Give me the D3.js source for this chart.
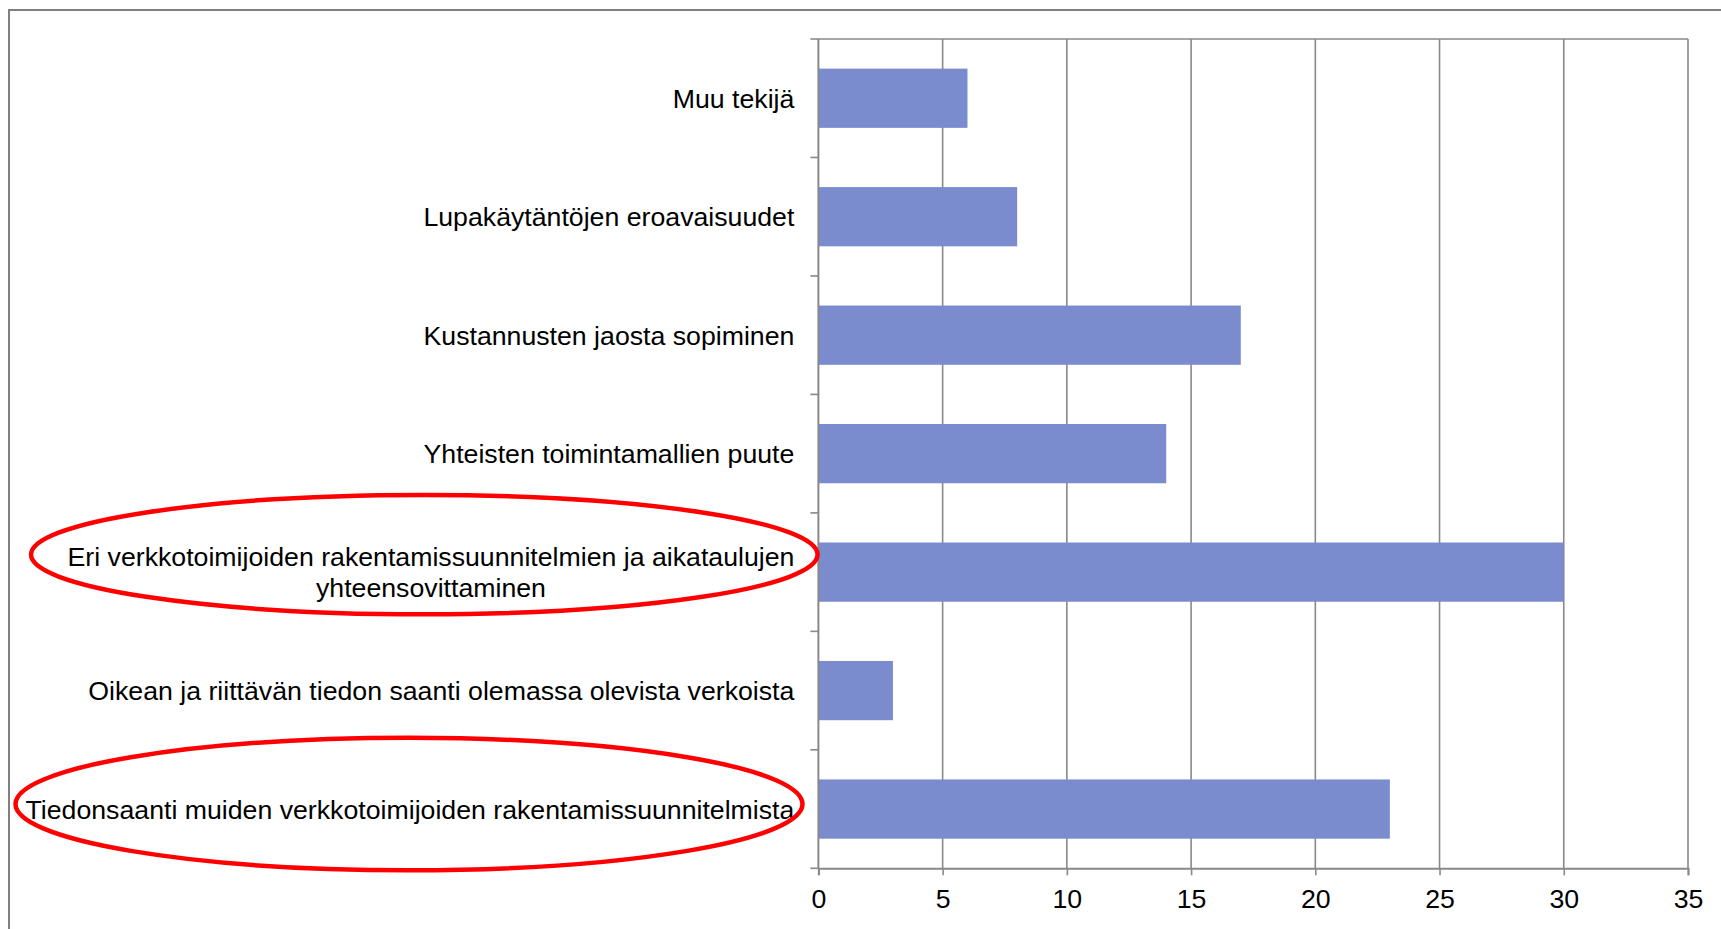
<!DOCTYPE html>
<html>
<head>
<meta charset="utf-8">
<script src="https://cdn.jsdelivr.net/npm/d3@7"></script>
<style>
  html, body { margin: 0; padding: 0; background: #fff; }
  svg text { font-family: "Liberation Sans", Arial, sans-serif; fill: #000; }
</style>
</head>
<body>
<svg id="chart" width="1721" height="929"></svg>
<script>
// Data (top to bottom, as in the chart)
const categories = [
  'Muu tekijä',
  'Lupakäytäntöjen eroavaisuudet',
  'Kustannusten jaosta sopiminen',
  'Yhteisten toimintamallien puute',
  'Eri verkkotoimijoiden rakentamissuunnitelmien ja aikataulujen yhteensovittaminen',
  'Oikean ja riittävän tiedon saanti olemassa olevista verkoista',
  'Tiedonsaanti muiden verkkotoimijoiden rakentamissuunnitelmista'
];
const values = [6, 8, 17, 14, 30, 3, 23];
const xTicks = [0, 5, 10, 15, 20, 25, 30, 35];
// lines for the label that wraps
const wrapped = {
  'Eri verkkotoimijoiden rakentamissuunnitelmien ja aikataulujen yhteensovittaminen':
    ['Eri verkkotoimijoiden rakentamissuunnitelmien ja aikataulujen', 'yhteensovittaminen']
};
// categories circled in red
const highlighted = [
  'Eri verkkotoimijoiden rakentamissuunnitelmien ja aikataulujen yhteensovittaminen',
  'Tiedonsaanti muiden verkkotoimijoiden rakentamissuunnitelmista'
];

const svg = d3.select('#chart');
const fontSize = 26.7;
const plotLeft = 818.4, plotRight = 1688, plotTop = 39, plotBottom = 868.3;
const gridColor = '#898989';

// outer frame, runs off the page on right and bottom
svg.append('rect')
  .attr('x', 9).attr('y', 10)
  .attr('width', 1800).attr('height', 1000)
  .attr('fill', 'none')
  .attr('stroke', '#808080')
  .attr('stroke-width', 2);

const x = d3.scaleLinear().domain([0, 35]).range([plotLeft, plotRight]);
const y = d3.scaleBand().domain(categories).range([plotTop, plotBottom])
  .paddingInner(0.5).paddingOuter(0.25);

// vertical gridlines
svg.append('g').selectAll('line')
  .data(xTicks.slice(1))
  .enter().append('line')
  .attr('x1', d => x(d)).attr('x2', d => x(d))
  .attr('y1', plotTop).attr('y2', plotBottom)
  .attr('stroke', gridColor)
  .attr('stroke-width', 1.6);

// top border of the plot area
svg.append('line')
  .attr('x1', plotLeft).attr('x2', plotRight)
  .attr('y1', plotTop).attr('y2', plotTop)
  .attr('stroke', gridColor).attr('stroke-width', 1.6);

// bars
svg.append('g').selectAll('rect')
  .data(categories)
  .enter().append('rect')
  .attr('x', x(0))
  .attr('y', d => y(d))
  .attr('width', (d, i) => x(values[i]) - x(0))
  .attr('height', y.bandwidth())
  .attr('fill', '#7a8bce');

// y axis: line + ticks at band boundaries
const step = y.step();
const yAxis = svg.append('g');
yAxis.append('line')
  .attr('x1', plotLeft).attr('x2', plotLeft)
  .attr('y1', plotTop).attr('y2', plotBottom)
  .attr('stroke', gridColor).attr('stroke-width', 2);
yAxis.selectAll('line.tick')
  .data(d3.range(categories.length + 1))
  .enter().append('line')
  .attr('class', 'tick')
  .attr('x1', plotLeft - 8).attr('x2', plotLeft)
  .attr('y1', i => plotTop + i * step).attr('y2', i => plotTop + i * step)
  .attr('stroke', gridColor).attr('stroke-width', 1.6);

// x axis
const xAxis = d3.axisBottom(x).tickValues(xTicks).tickSize(7).tickPadding(14)
  .tickFormat(d3.format('d'));
const xg = svg.append('g')
  .attr('transform', `translate(0,${plotBottom})`)
  .call(xAxis);
xg.select('.domain').attr('stroke', gridColor).attr('stroke-width', 2);
xg.selectAll('.tick line').attr('stroke', gridColor).attr('stroke-width', 1.6);
xg.selectAll('.tick text')
  .attr('font-size', fontSize)
  .attr('font-family', '"Liberation Sans", Arial, sans-serif')
  .attr('fill', '#000');

// category labels
const labelX = plotLeft - 24;
const lineH = 30.7;
const labels = svg.append('g').attr('font-size', fontSize);
categories.forEach(c => {
  const cy = y(c) + y.bandwidth() / 2;
  const lines = wrapped[c] || [c];
  const t = labels.append('text').attr('text-anchor', 'end');
  if (lines.length === 1) {
    t.attr('x', labelX).attr('y', cy).attr('dy', '0.355em').text(c);
  } else {
    const first = t.attr('x', labelX)
      .attr('y', cy - lineH / 2).attr('dy', '0.355em').text(lines[0]);
    const w = first.node().getComputedTextLength();
    labels.append('text')
      .attr('text-anchor', 'middle')
      .attr('x', labelX - w / 2)
      .attr('y', cy + lineH / 2).attr('dy', '0.355em')
      .text(lines[1]);
  }
});

// red ellipses round the highlighted labels
const ellipseShape = {
  [highlighted[0]]: { cx: 424.3, rx: 393.3, ry: 59.7, dy: -17.5 },
  [highlighted[1]]: { cx: 409, rx: 393.5, ry: 66.2, dy: -5 }
};
svg.append('g').selectAll('ellipse')
  .data(highlighted)
  .enter().append('ellipse')
  .attr('cx', d => ellipseShape[d].cx)
  .attr('cy', d => y(d) + y.bandwidth() / 2 + ellipseShape[d].dy)
  .attr('rx', d => ellipseShape[d].rx)
  .attr('ry', d => ellipseShape[d].ry)
  .attr('fill', 'none')
  .attr('stroke', '#ff0000')
  .attr('stroke-width', 4.5);
</script>
</body>
</html>
